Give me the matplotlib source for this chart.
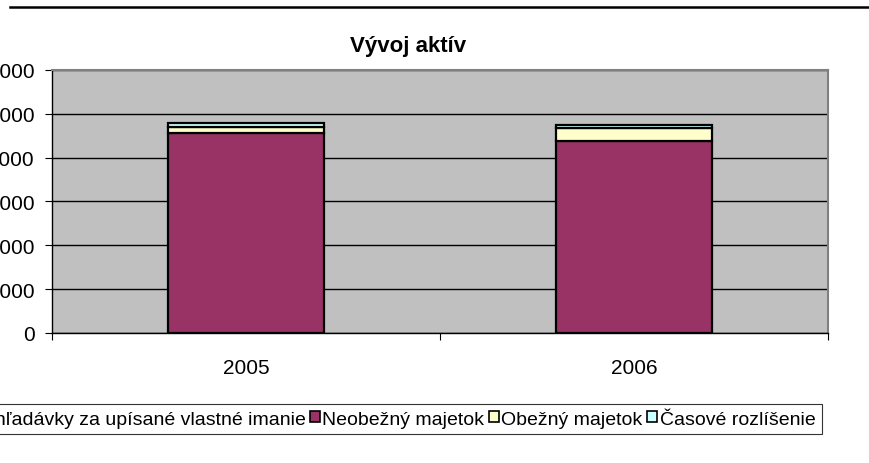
import matplotlib
matplotlib.use("Agg")
import matplotlib.pyplot as plt
from matplotlib.patches import Patch
from matplotlib.lines import Line2D
import numpy as np

plt.rcParams['font.family'] = ['Liberation Sans', 'DejaVu Sans']

years = ["2005", "2006"]
series_names = ["Pohľadávky za upísané vlastné imanie", "Neobežný majetok",
                "Obežný majetok", "Časové rozlíšenie"]
pohladavky = [0, 0]
neobezny = [45700, 43800]
obezny = [1300, 3000]
casove = [900, 700]
y_ticks = [0, 10000, 20000, 30000, 40000, 50000, 60000]
colors = ["#9999FF", "#993366", "#FFFFCC", "#CCFFFF"]

fig = plt.figure(figsize=(8.69, 4.64), dpi=100)
ax = fig.add_axes([0.0598, 0.2802, 0.893, 0.567])
ax.set_facecolor("#C0C0C0")

x = np.arange(len(years))
bottom = np.zeros(len(years))
for vals, col in zip([pohladavky, neobezny, obezny, casove], colors):
    ax.bar(x, vals, 0.4, bottom=bottom, color=col, edgecolor="black",
           linewidth=1.6, zorder=3)
    bottom += np.array(vals)

ax.set_xlim(-0.5, 1.5)
ax.set_ylim(0, 60000)
ax.set_yticks(y_ticks)
ax.set_yticklabels([str(v) for v in y_ticks], fontsize=15)
ax.yaxis.grid(True, color="black", linewidth=1.0, zorder=1)
ax.set_axisbelow(True)
ax.set_xticks([-0.5, 0.5, 1.5])
ax.set_xticklabels([])
ax.set_xticks(x, minor=True)
ax.set_xticklabels(years, minor=True, fontsize=15)
ax.tick_params(axis='x', which='minor', length=0, pad=18)
ax.tick_params(axis='x', which='major', length=5, direction='out', color='black')
ax.tick_params(axis='y', length=5, direction='out', color='black', pad=7.5)
for s in ["top", "right"]:
    ax.spines[s].set_color("#808080")
    ax.spines[s].set_linewidth(1.5)
for s in ["left", "bottom"]:
    ax.spines[s].set_color("black")
    ax.spines[s].set_linewidth(1.0)

fig.text(0.4695, 0.899, "Vývoj aktív", ha="center", va="center",
         fontsize=16, fontweight="bold")

fig.add_artist(Line2D([0.011, 1.0], [0.983, 0.983], color="black",
                      linewidth=1.8, transform=fig.transFigure))

handles = [Patch(facecolor=c, edgecolor="black", linewidth=1.2) for c in colors]
leg = fig.legend(handles, series_names, loc="center right",
                 bbox_to_anchor=(0.946, 0.0948), ncol=4, fontsize=14,
                 frameon=True, fancybox=False, handlelength=0.5,
                 handleheight=0.5, handletextpad=0.12, columnspacing=0.25,
                 borderpad=0.35, borderaxespad=0)
leg.get_frame().set_edgecolor("black")
leg.get_frame().set_linewidth(0.8)

fig.savefig("out.png", dpi=100)
